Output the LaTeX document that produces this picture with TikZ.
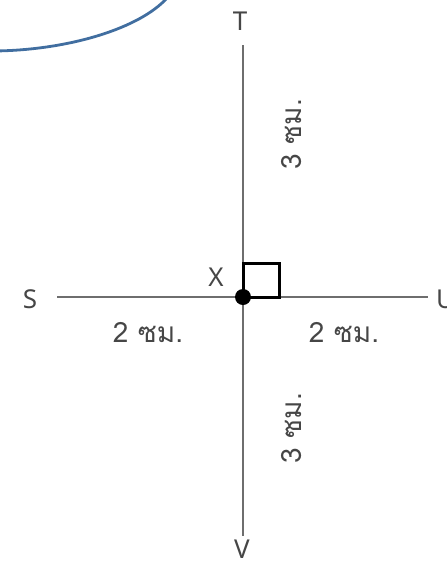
\documentclass[tikz,border=0pt]{standalone}
\usepackage{fontspec}
\setmainfont{Noto Sans}
\newfontfamily\thaifont[Script=Thai]{Loma}
\definecolor{AxisGrey}{RGB}{110,110,110}
\definecolor{TextGrey}{RGB}{70,70,70}
\definecolor{CurveBlue}{RGB}{65,110,160}
\tikzset{
  axisline/.style={draw=AxisGrey, line width=2.2pt},
  ptlabel/.style={font=\fontsize{26}{28}\selectfont, text=TextGrey, inner sep=0pt},
  lenlabel/.style={font=\fontsize{28}{30}\selectfont\thaifont, text=TextGrey, inner sep=0pt}
}
\begin{document}
\begin{tikzpicture}[x=1pt, y=-1pt]
        \useasboundingbox (0,0) rectangle (447,563);
        % Blue curve (top left)
        \draw[CurveBlue, line width=2.8pt] (-5,51) .. controls (70,50) and (140,28) .. (167,-2);

        % End points
        \coordinate (top) at (243,45);
        \coordinate (bottom) at (243,536);
        \coordinate (left) at (57,297);
        \coordinate (right) at (428,297);
        \coordinate (x) at (243,297);

        % Lines
        \draw[axisline] (top) -- (bottom);
        \draw[axisline] (left) -- (right);

        % Right angle
        \draw[black, line width=3pt] (x) rectangle ++(36,-34);
        \fill[black] (x) circle (8);

        % Point labels
        \node[ptlabel] (t) at (240,21) {T};
        \node[ptlabel] (v) at (242,549) {V};
        \node[ptlabel] (s) at (30,299) {S};
        \node[ptlabel, anchor=west] (u) at (436,299) {U};
        \node[ptlabel] (xl) at (216,277) {X};

        % Lengths
        \node[lenlabel] (sx) at (148,333) {2 ซม.};
        \node[lenlabel] (xu) at (344,333) {2 ซม.};
        \node[lenlabel, rotate=90] (tx) at (292,134) {3 ซม.};
        \node[lenlabel, rotate=90] (xv) at (292,428) {3 ซม.};
\end{tikzpicture}
\end{document}
